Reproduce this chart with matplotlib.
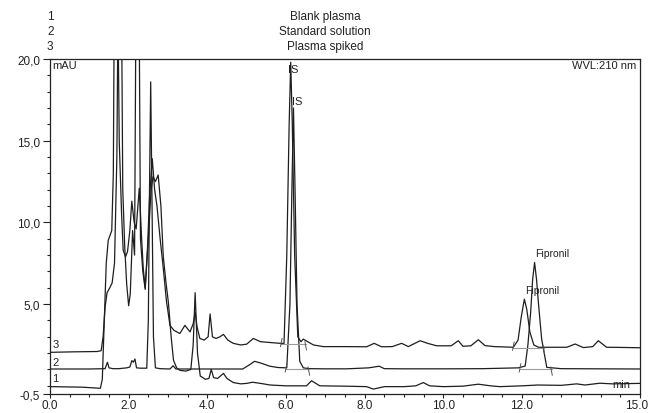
import matplotlib.pyplot as plt
import matplotlib.transforms as mtransforms
import numpy as np

plt.rcParams['font.family'] = ['Liberation Sans', 'DejaVu Sans']

# trace 1 - blank plasma
t1 = [0.0, 0.8, 1.28, 1.33, 1.38, 1.43, 1.48, 1.57, 1.61, 1.65, 1.7, 1.76, 1.82, 1.86, 1.92,
      1.97, 2.03, 2.08, 2.14, 2.19, 2.27, 2.33, 2.37, 2.42, 2.5, 2.57, 2.62, 2.68, 2.75, 2.82,
      2.88, 2.95, 3.01, 3.08, 3.14, 3.22, 3.3, 3.45, 3.58, 3.64, 3.69, 3.75, 3.82, 3.95, 4.04,
      4.1, 4.16, 4.26, 4.41, 4.5, 4.66, 4.85, 5.0, 5.15, 5.35, 5.6, 6.0, 6.4, 6.52, 6.65, 6.86,
      7.5, 8.05, 8.22, 8.5, 9.0, 9.3, 9.49, 9.65, 10.0, 10.5, 10.89, 11.2, 11.44, 12.0, 12.4,
      13.0, 13.39, 13.6, 13.98, 14.3, 15.0]
v1 = [-0.05, -0.08, -0.15, 0.4, 4.0, 7.5, 8.9, 9.5, 13, 30, 30, 15, 10.5, 8.3, 7.9,
      8.2, 9.5, 11.3, 10.0, 9.6, 12.1, 9.0, 7.2, 6.0, 9.0, 12.0, 12.8, 12.5, 12.9, 11.0,
      7.9, 6.3, 5.1, 3.0, 1.56, 1.1, 0.95, 0.9, 1.0, 2.5, 5.7, 2.0, 0.6, 0.4, 0.45,
      1.0, 0.5, 0.45, 0.76, 0.45, 0.2, 0.12, 0.15, 0.22, 0.15, 0.05, 0.0, 0.0, 0.0, 0.31, 0.0,
      -0.02, -0.05, -0.2, -0.05, -0.05, 0.0, 0.2, 0.0, -0.05, -0.02, 0.1, 0.0, -0.05, 0.0, 0.05,
      0.03, 0.12, 0.05, 0.16, 0.12, 0.15]

# trace 2 - standard solution
t2 = [0.0, 1.0, 1.4, 1.46, 1.5, 1.6, 1.75, 1.95, 2.03, 2.08, 2.12, 2.16, 2.2, 2.3, 2.46,
      2.5, 2.53, 2.56, 2.59, 2.63, 2.68, 2.8, 3.05, 3.13, 3.2, 3.5, 4.0, 4.5, 4.9, 5.08,
      5.2, 5.35, 5.59, 5.8, 6.02, 6.1, 6.15, 6.19, 6.23, 6.28, 6.35, 6.44, 6.6, 7.0, 7.54,
      8.1, 8.37, 8.5, 9.0, 10.0, 11.0, 11.91, 12.08, 12.15, 12.22, 12.27, 12.32, 12.37, 12.42, 12.5,
      12.63, 13.0, 14.0, 15.0]
v2 = [1.03, 1.03, 1.05, 1.44, 1.1, 1.05, 1.05, 1.1, 1.15, 1.54, 1.45, 1.64, 1.1, 1.08, 1.08,
      4.0, 12.0, 18.6, 12.0, 3.0, 1.1, 1.05, 1.03, 1.23, 1.03, 1.03, 1.03, 1.03, 1.03, 1.3,
      1.5, 1.4, 1.2, 1.12, 1.1, 5.0, 12.0, 17.0, 12.0, 5.0, 1.5, 1.1, 1.05, 1.04, 1.04,
      1.1, 1.2, 1.05, 1.04, 1.04, 1.05, 1.1, 1.21, 2.5, 4.5, 6.5, 7.55, 6.5, 5.0, 2.86,
      1.13, 1.05, 1.04, 1.03]

# trace 3 - plasma spiked
t3 = [0.0, 0.6, 1.2, 1.3, 1.35, 1.4, 1.45, 1.52, 1.58, 1.64, 1.7, 1.75, 1.8, 1.85, 1.9,
      1.95, 2.0, 2.04, 2.1, 2.15, 2.2, 2.25, 2.3, 2.36, 2.42, 2.48, 2.53, 2.6, 2.66, 2.72,
      2.8, 2.88, 2.96, 3.05, 3.15, 3.3, 3.43, 3.56, 3.64, 3.69, 3.74, 3.81, 3.92, 4.02, 4.07,
      4.13, 4.22, 4.32, 4.41, 4.52, 4.66, 4.85, 5.0, 5.17, 5.35, 5.6, 5.85, 5.95, 6.02, 6.08,
      6.12, 6.16, 6.22, 6.3, 6.38, 6.44, 6.55, 6.7, 6.95, 7.5, 8.05, 8.24, 8.43, 8.7, 8.94,
      9.11, 9.41, 9.6, 9.83, 10.2, 10.38, 10.5, 10.7, 10.89, 11.06, 11.3, 11.78, 11.9, 11.98, 12.06,
      12.12, 12.2, 12.3, 12.42, 12.8, 13.14, 13.35, 13.56, 13.8, 13.94, 14.15, 14.5, 15.0]
v3 = [2.05, 2.08, 2.1, 2.15, 3.0, 4.8, 5.7, 6.0, 6.3, 7.5, 14.0, 30.0, 30.0, 12.0, 8.5,
      6.2, 4.9, 5.6, 9.5, 8.0, 30.0, 30.0, 9.0, 7.0, 5.9, 8.5, 11.5, 13.9, 12.0, 11.0,
      9.0, 7.2, 5.2, 3.7, 3.4, 3.2, 3.7, 3.3, 3.8, 4.5, 3.6, 2.9, 2.8, 3.0, 4.4,
      3.0, 2.9, 3.0, 3.15, 2.8, 2.6, 2.5, 2.55, 2.9, 2.7, 2.65, 2.6, 2.6, 8.0, 16.0,
      19.8, 16.0, 8.0, 3.0, 2.7, 2.86, 2.7, 2.5, 2.4, 2.4, 2.39, 2.6, 2.39, 2.4, 2.6,
      2.4, 2.76, 2.6, 2.45, 2.45, 2.76, 2.42, 2.45, 2.82, 2.46, 2.4, 2.36, 2.8, 4.2, 5.3,
      4.7, 3.3, 2.5, 2.36, 2.36, 2.36, 2.56, 2.34, 2.4, 2.76, 2.36, 2.35, 2.33]

# integration baselines (start, end, level)
integ_start = [5.88, 6.0, 11.78, 11.95]
integ_end = [6.5, 6.58, 12.55, 12.75]
integ_level = [2.55, 1.0, 2.33, 1.0]

header_nums = ['1', '2', '3']
header_names = ['Blank plasma', 'Standard solution', 'Plasma spiked']
trace_base = [0.0, 1.03, 2.08]

xticks_major = [0, 2, 4, 6, 8, 10, 12, 15]
xtick_labels = ['0.0', '2.0', '4.0', '6.0', '8.0', '10.0', '12.0', '15.0']
yticks_major = [-0.5, 5, 10, 15, 20]
ytick_labels = ['-0,5', '5,0', '10,0', '15,0', '20,0']

fig = plt.figure(figsize=(6.48, 4.14), dpi=100)
ax = fig.add_axes([50 / 648, 1 - 395 / 414, 590 / 648, 335 / 414])

lc = '#1e1e1e'
for t, v in [(t1, v1), (t2, v2), (t3, v3)]:
    ax.plot(t, v, color=lc, lw=0.9, solid_joinstyle='round')

for s, e, lv in zip(integ_start, integ_end, integ_level):
    ax.plot([s, e], [lv, lv], color='#9a9a9a', lw=0.8)
    ax.plot([s - 0.02, s + 0.02], [lv - 0.15, lv + 0.35], color='#555555', lw=0.7)
    ax.plot([e - 0.02, e + 0.02], [lv + 0.15, lv - 0.35], color='#555555', lw=0.7)

ax.set_xlim(0, 15)
ax.set_ylim(-0.5, 20)
ax.set_xticks(xticks_major)
ax.set_xticklabels(xtick_labels)
ax.set_xticks(np.arange(0, 15.01, 0.5), minor=True)
ax.set_yticks(yticks_major)
ax.set_yticklabels(ytick_labels)
ax.set_yticks(np.arange(0, 20.01, 1.0), minor=True)
ax.tick_params(axis='y', which='major', length=5, width=0.8, labelsize=8.5, pad=2, colors='#222222')
ax.tick_params(axis='x', which='major', length=3, width=0.8, labelsize=8.5, pad=0.5, colors='#222222')
ax.tick_params(which='minor', length=2.5, width=0.8, colors='#222222')
for sp in ax.spines.values():
    sp.set_linewidth(0.9)
    sp.set_color('#222222')

# keep the last x label inside the figure
last = ax.get_xticklabels()[-1]
last.set_ha('right')
last.set_transform(last.get_transform() + mtransforms.ScaledTranslation(6 / 72, 0, fig.dpi_scale_trans))

# labels inside the plot
ax.text(0.06, 19.95, 'mAU', fontsize=8, va='top', ha='left', color='#222222')
ax.text(14.9, 19.95, 'WVL:210 nm', fontsize=8, va='top', ha='right', color='#222222')
ax.text(14.3, 0.1, 'min', fontsize=8, va='center', ha='left', color='#222222')
ax.text(6.05, 19.4, 'IS', fontsize=8, va='center', ha='left', color='#222222')
ax.text(6.15, 17.4, 'IS', fontsize=8, va='center', ha='left', color='#222222')
ax.text(12.33, 8.1, 'Fipronil', fontsize=7.5, va='center', ha='left', color='#222222')
ax.text(12.08, 5.85, 'Fipronil', fontsize=7.5, va='center', ha='left', color='#222222')
for num, b in zip(header_nums, trace_base):
    ax.text(0.06, b + 0.15, num, fontsize=8, va='bottom', ha='left', color='#222222')

# header
for i, (num, name) in enumerate(zip(header_nums, header_names)):
    y = 1 - (17 + 15 * i) / 414
    fig.text(47 / 648, y, num, fontsize=8.5, va='center', ha='left', color='#222222')
    fig.text(325 / 648, y, name, fontsize=8.5, va='center', ha='center', color='#222222')

fig.savefig('out.png', dpi=100)
